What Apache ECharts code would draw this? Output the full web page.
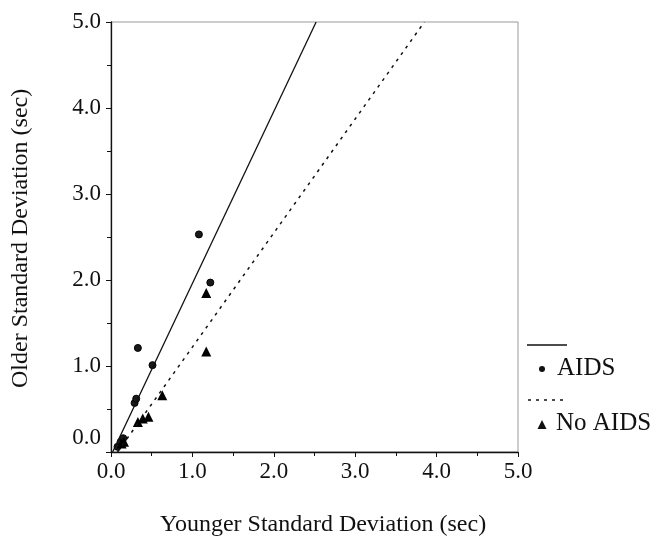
<!DOCTYPE html>
<html>
<head>
<meta charset="utf-8">
<script src="https://cdn.jsdelivr.net/npm/echarts@6/dist/echarts.min.js"></script>
<style>
  html, body { margin: 0; padding: 0; background: #fff; }
  #chart { width: 665px; height: 549px; }
</style>
</head>
<body>
<div id="chart"></div>
<script>
// AIDS group (circles)
var aidsX = [0.08, 0.12, 0.15, 0.29, 0.31, 0.33, 0.51, 1.08, 1.22];
var aidsY = [0.06, 0.12, 0.16, 0.57, 0.62, 1.21, 1.01, 2.53, 1.97];
// No AIDS group (triangles)
var noAidsX = [0.13, 0.16, 0.33, 0.39, 0.46, 0.63, 1.17, 1.17];
var noAidsY = [0.10, 0.12, 0.35, 0.39, 0.41, 0.66, 1.17, 1.85];
// fitted lines (end points)
var aidsLineX = [0.02, 2.52];
var aidsLineY = [0, 5.0];
var noAidsLineX = [0.08, 3.85];
var noAidsLineY = [0, 5.0];
var tickLabels = ["0.0", "1.0", "2.0", "3.0", "4.0", "5.0"];

function pairs(xs, ys) {
  return xs.map(function (x, i) { return [x, ys[i]]; });
}

var font = "Liberation Serif";
var chart = echarts.init(document.getElementById("chart"));

var axisCommon = {
  min: 0,
  max: 5,
  interval: 1,
  axisLine: { lineStyle: { color: "#111", width: 1.3 } },
  axisTick: { inside: false, length: 5, lineStyle: { color: "#111" } },
  minorTick: { show: true, splitNumber: 2, length: 4, lineStyle: { color: "#111" } },
  splitLine: { show: false },
  axisLabel: {
    color: "#111",
    fontFamily: font,
    fontSize: 23
  }
};

var option = {
  backgroundColor: "#fff",
  animation: false,
  grid: {
    left: 111, right: 147, top: 22, bottom: 97,
    show: true, borderColor: "#999", borderWidth: 1
  },
  xAxis: Object.assign({}, axisCommon, {
    type: "value",
    axisLabel: Object.assign({}, axisCommon.axisLabel, {
      margin: 8,
      formatter: function (v) { return tickLabels[Math.round(v)]; }
    })
  }),
  yAxis: Object.assign({}, axisCommon, {
    type: "value",
    axisLabel: Object.assign({}, axisCommon.axisLabel, {
      margin: 10,
      formatter: function (v) {
        var i = Math.round(v);
        return i === 0 ? "{z|" + tickLabels[i] + "}" : tickLabels[i];
      },
      rich: { z: { fontFamily: font, fontSize: 23, color: "#111", padding: [0, 0, 28, 0] } }
    })
  }),
  series: [
    {
      name: "AIDS",
      type: "scatter",
      symbol: "circle",
      symbolSize: 7,
      itemStyle: { color: "#1a1a1a", borderColor: "#000", borderWidth: 1, opacity: 1 },
      data: pairs(aidsX, aidsY)
    },
    {
      name: "No AIDS",
      type: "scatter",
      symbol: "triangle",
      symbolSize: 10,
      itemStyle: { color: "#000", opacity: 1 },
      data: pairs(noAidsX, noAidsY)
    },
    {
      name: "AIDS fit",
      type: "line",
      showSymbol: false,
      lineStyle: { color: "#111", width: 1.3, type: "solid" },
      data: pairs(aidsLineX, aidsLineY)
    },
    {
      name: "No AIDS fit",
      type: "line",
      showSymbol: false,
      lineStyle: { color: "#111", width: 1.5, type: [3, 5] },
      data: pairs(noAidsLineX, noAidsLineY)
    }
  ],
  graphic: [
    {
      type: "text", left: 160, top: 513,
      style: { text: "Younger Standard Deviation (sec)", fill: "#111", font: "24px " + font }
    },
    {
      type: "text", x: 9, y: 388, rotation: Math.PI / 2,
      style: { text: "Older Standard Deviation (sec)", fill: "#111", font: "24px " + font }
    },
    // legend
    { type: "line", shape: { x1: 527, y1: 345, x2: 567, y2: 345 }, style: { stroke: "#111", lineWidth: 1.3 } },
    { type: "circle", shape: { cx: 542, cy: 369, r: 3 }, style: { fill: "#111" } },
    { type: "text", x: 557, y: 368, style: { text: "AIDS", fill: "#111", font: "25px " + font, textVerticalAlign: "middle" } },
    { type: "line", shape: { x1: 528, y1: 400, x2: 567, y2: 400 }, style: { stroke: "#111", lineWidth: 1.3, lineDash: [3, 5] } },
    { type: "polygon", shape: { points: [[542, 420], [537.5, 429], [546.5, 429]] }, style: { fill: "#111" } },
    { type: "text", x: 556, y: 423, style: { text: "No AIDS", fill: "#111", font: "25px " + font, textVerticalAlign: "middle" } }
  ]
};

chart.setOption(option);
</script>
</body>
</html>
